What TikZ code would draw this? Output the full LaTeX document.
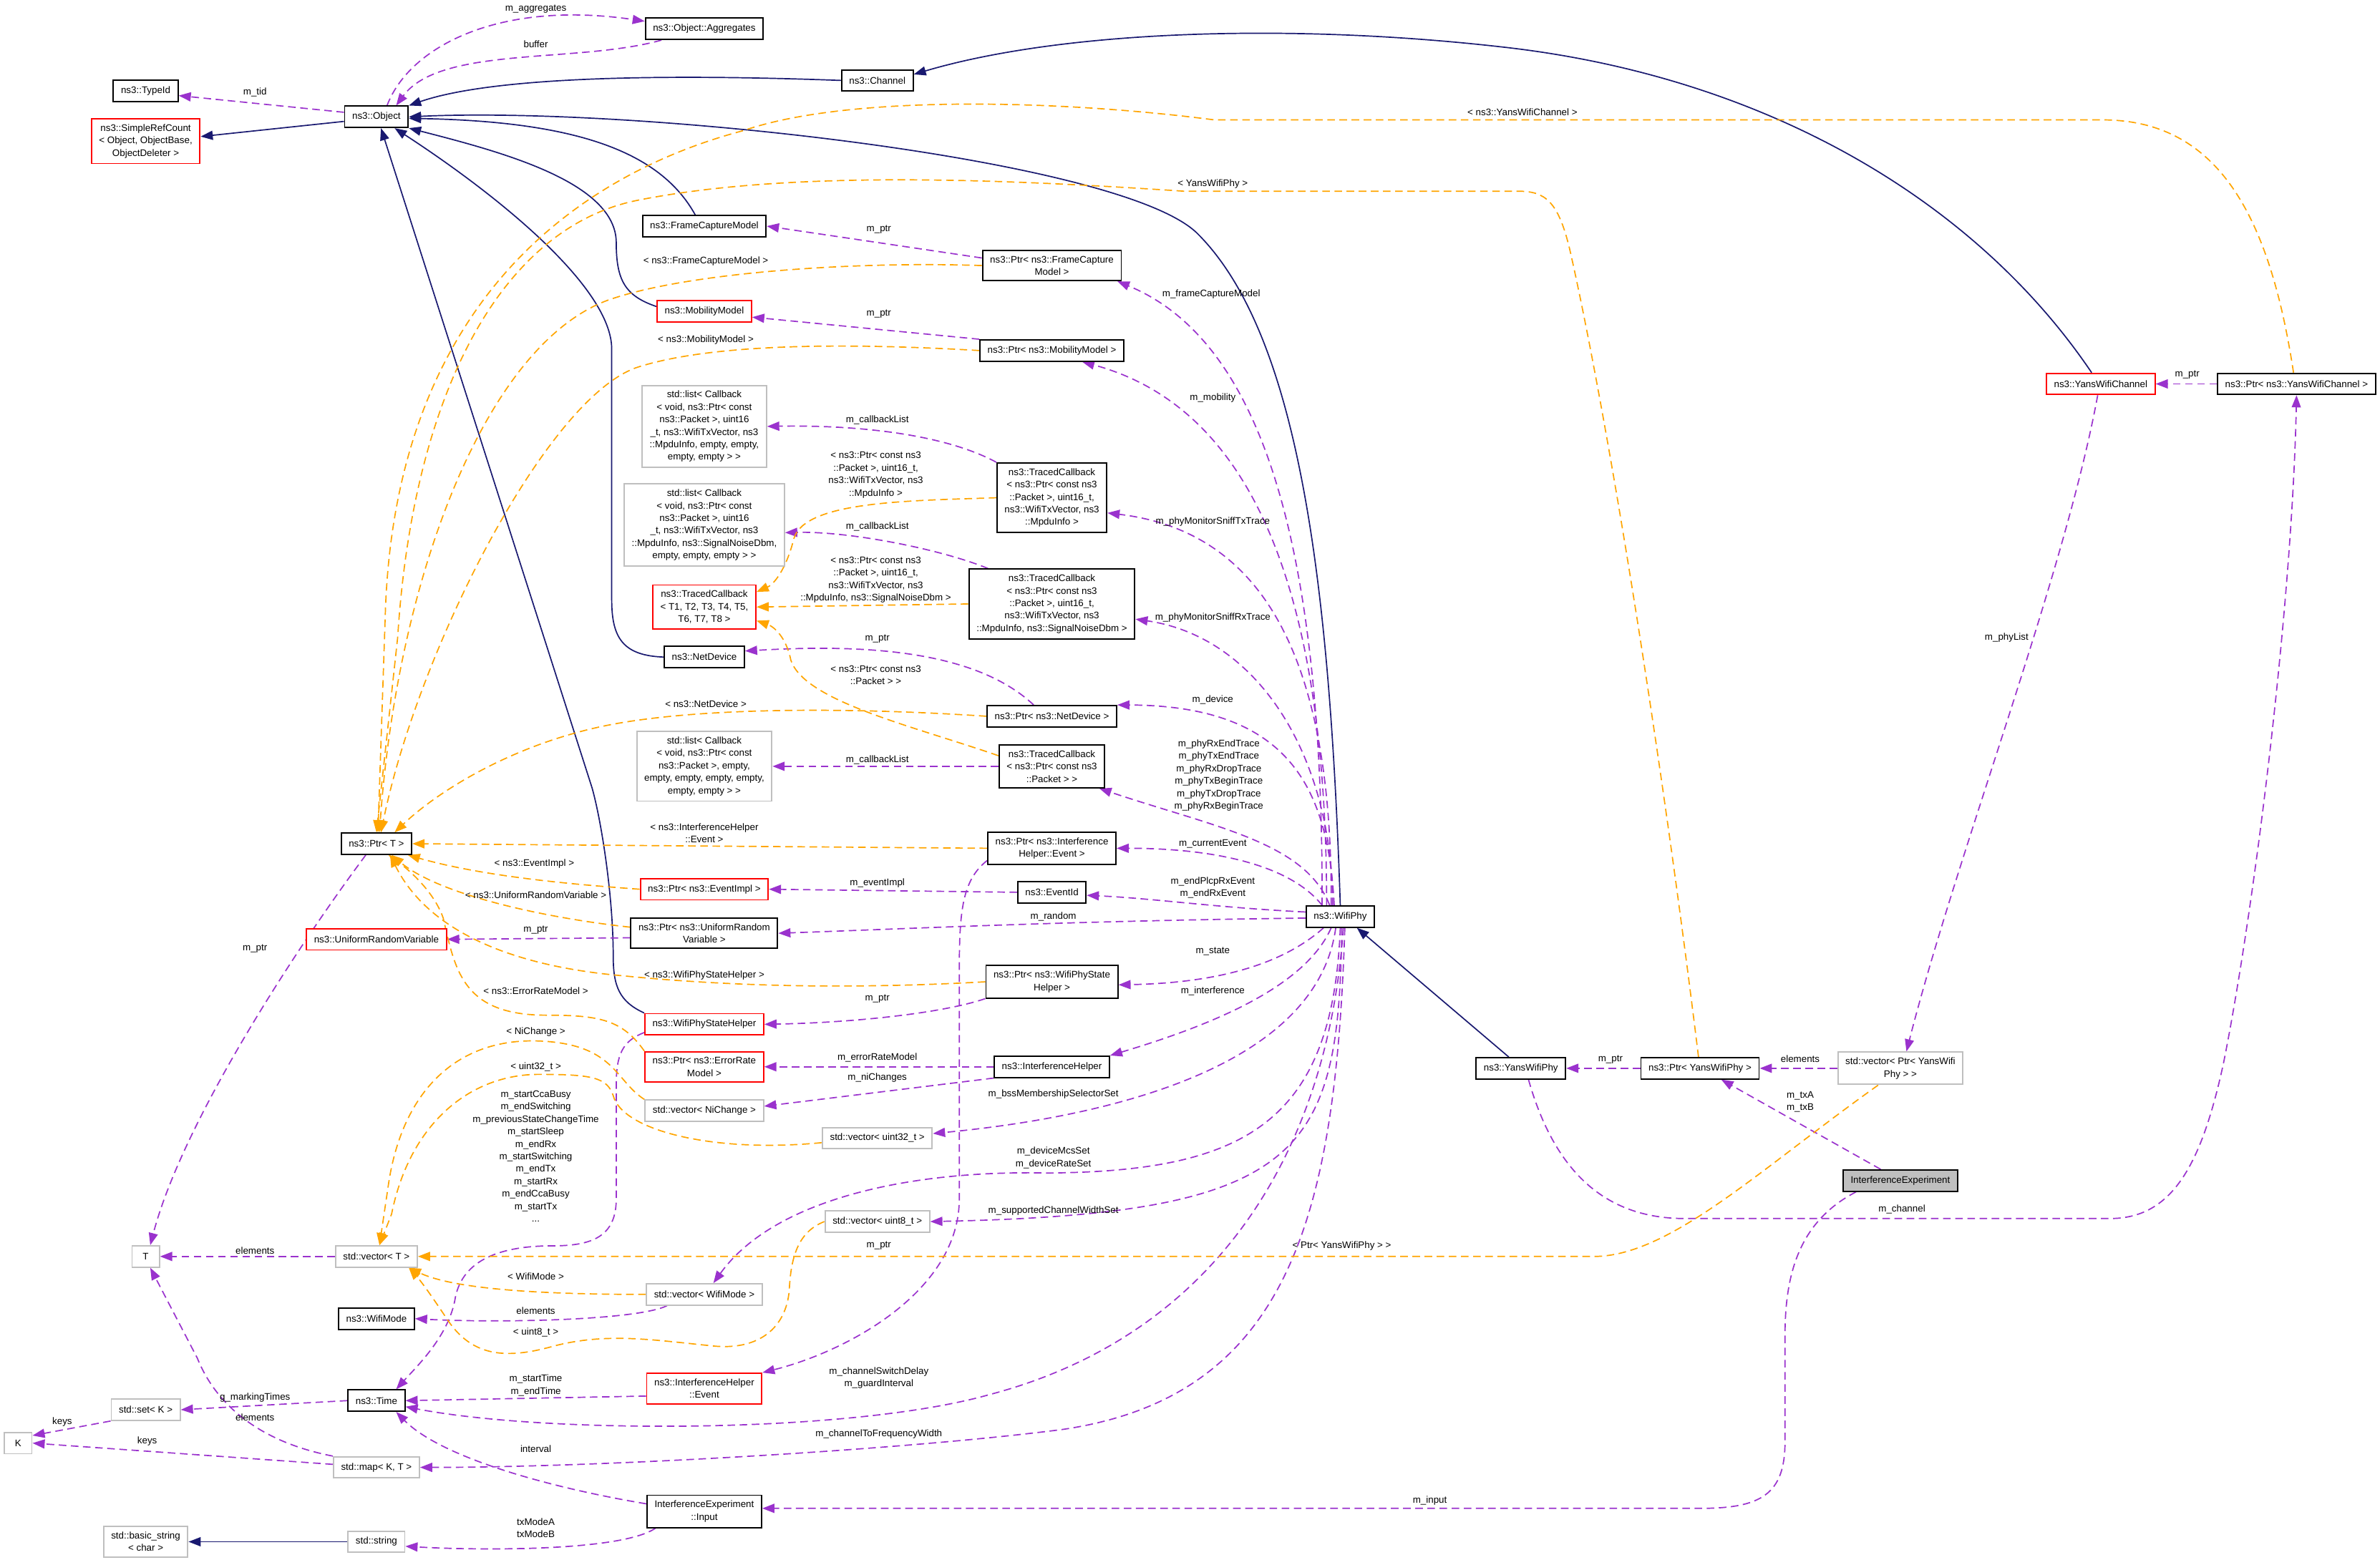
\documentclass[tikz,border=0pt]{standalone}
\usepackage{fontspec}
\setmainfont{Liberation Sans}
\usetikzlibrary{arrows.meta,backgrounds}
\definecolor{inhblue}{HTML}{191970}
\definecolor{usepurple}{HTML}{9A32CD}
\definecolor{tmplorange}{HTML}{FFA500}
\definecolor{extgray}{HTML}{BFBFBF}

\begin{document}
\begin{tikzpicture}[x=1pt, y=-1pt,
  every node/.style={font=\fontsize{6.3}{8.2}\selectfont},
  cls/.style={draw=black, fill=white, line width=0.9pt, align=center, inner xsep=5pt, inner ysep=3.6pt, minimum height=14pt, minimum width=18pt},
  clsred/.style={cls, draw=red},
  clsext/.style={cls, draw=extgray},
  clsmain/.style={cls, fill=extgray},
  lbl/.style={align=center, inner sep=0pt},
  inherit/.style={draw=inhblue, line width=0.8pt, -{Triangle[length=8pt,width=6pt]}},
  uses/.style={draw=usepurple, line width=0.8pt, dash pattern=on 5pt off 3pt, -{Triangle[length=8pt,width=6pt]}},
  tmpl/.style={draw=tmplorange, line width=0.8pt, dash pattern=on 5pt off 3pt, -{Triangle[length=8pt,width=6pt]}}]

  \useasboundingbox (0,0) rectangle (1568,1028);

  %classes:
  \node[cls] (obj) at (248,77) {ns3::Object};
  \node[cls] (typeid) at (96,60) {ns3::TypeId};
  \node[clsred] (refcnt) at (96,93) {ns3::SimpleRefCount\\< Object, ObjectBase,\\ObjectDeleter >};
  \node[cls] (aggr) at (464,19) {ns3::Object::Aggregates};
  \node[cls] (chan) at (578,53) {ns3::Channel};
  \node[cls] (fcm) at (464,149) {ns3::FrameCaptureModel};
  \node[cls] (ptrfcm) at (693,175) {ns3::Ptr< ns3::FrameCapture\\Model >};
  \node[clsred] (mob) at (464,205) {ns3::MobilityModel};
  \node[cls] (ptrmob) at (693,231) {ns3::Ptr< ns3::MobilityModel >};
  \node[clsext] (list1) at (464,281) {std::list< Callback\\< void, ns3::Ptr< const\\ns3::Packet >, uint16\\\_t, ns3::WifiTxVector, ns3\\::MpduInfo, empty, empty,\\empty, empty > >};
  \node[cls] (tc1) at (693,328) {ns3::TracedCallback\\< ns3::Ptr< const ns3\\::Packet >, uint16\_t,\\ns3::WifiTxVector, ns3\\::MpduInfo >};
  \node[clsext] (list2) at (464,346) {std::list< Callback\\< void, ns3::Ptr< const\\ns3::Packet >, uint16\\\_t, ns3::WifiTxVector, ns3\\::MpduInfo, ns3::SignalNoiseDbm,\\empty, empty, empty > >};
  \node[clsred] (tcT) at (464,400) {ns3::TracedCallback\\< T1, T2, T3, T4, T5,\\T6, T7, T8 >};
  \node[cls] (tc2) at (693,398) {ns3::TracedCallback\\< ns3::Ptr< const ns3\\::Packet >, uint16\_t,\\ns3::WifiTxVector, ns3\\::MpduInfo, ns3::SignalNoiseDbm >};
  \node[cls] (netdev) at (464,433) {ns3::NetDevice};
  \node[cls] (ptrnd) at (693,472) {ns3::Ptr< ns3::NetDevice >};
  \node[clsext] (list3) at (464,505) {std::list< Callback\\< void, ns3::Ptr< const\\ns3::Packet >, empty,\\empty, empty, empty, empty,\\empty, empty > >};
  \node[cls] (tc3) at (693,505) {ns3::TracedCallback\\< ns3::Ptr< const ns3\\::Packet > >};
  \node[cls] (ptrT) at (248,556) {ns3::Ptr< T >};
  \node[cls] (ptrev) at (693,559) {ns3::Ptr< ns3::Interference\\Helper::Event >};
  \node[clsred] (ptrei) at (464,586) {ns3::Ptr< ns3::EventImpl >};
  \node[cls] (evid) at (693,588) {ns3::EventId};
  \node[cls] (phy) at (883,604) {ns3::WifiPhy};
  \node[clsred] (urv) at (248,619) {ns3::UniformRandomVariable};
  \node[cls] (ptrurv) at (464,615) {ns3::Ptr< ns3::UniformRandom\\Variable >};
  \node[cls] (ptrstate) at (693,647) {ns3::Ptr< ns3::WifiPhyState\\Helper >};
  \node[clsred] (state) at (464,675) {ns3::WifiPhyStateHelper};
  \node[clsred] (ptrerm) at (464,703) {ns3::Ptr< ns3::ErrorRate\\Model >};
  \node[cls] (ih) at (693,703) {ns3::InterferenceHelper};
  \node[clsext] (vecni) at (464,732) {std::vector< NiChange >};
  \node[clsext] (vecu32) at (578,750) {std::vector< uint32\_t >};
  \node[cls] (yphy) at (1002,704) {ns3::YansWifiPhy};
  \node[cls] (ptryphy) at (1120,704) {ns3::Ptr< YansWifiPhy >};
  \node[clsext] (vecyphy) at (1252,704) {std::vector< Ptr< YansWifi\\Phy > >};
  \node[clsmain] (exp) at (1252,778) {InterferenceExperiment};
  \node[clsred] (ychan) at (1384,253) {ns3::YansWifiChannel};
  \node[cls] (ptrychan) at (1513,253) {ns3::Ptr< ns3::YansWifiChannel >};
  \node[clsext] (vecu8) at (578,805) {std::vector< uint8\_t >};
  \node[clsext] (tT) at (96,828) {T};
  \node[clsext] (vecT) at (248,828) {std::vector< T >};
  \node[clsext] (vecmode) at (464,853) {std::vector< WifiMode >};
  \node[cls] (mode) at (248,869) {ns3::WifiMode};
  \node[clsred] (ihev) at (464,915) {ns3::InterferenceHelper\\::Event};
  \node[cls] (time) at (248,923) {ns3::Time};
  \node[clsext] (setK) at (96,929) {std::set< K >};
  \node[clsext] (kK) at (12,951) {K};
  \node[clsext] (mapKT) at (248,967) {std::map< K, T >};
  \node[cls] (input) at (464,996) {InterferenceExperiment\\::Input};
  \node[clsext] (bstr) at (96,1016) {std::basic\_string\\< char >};
  \node[clsext] (str) at (248,1016) {std::string};

  \begin{scope}[on background layer]
  \fill[white] (0,0) rectangle (1568,1028);

  %inheritance
  \draw[inherit] ([yshift=-3pt]obj.west) -- ([yshift=3pt]refcnt.east);
  \draw[inherit] (chan.west) .. controls (420,48) and (320,52) .. (obj.north east);
  \draw[inherit] (phy.north) .. controls (876,380) and (855,220) .. (789,154) .. controls (740,105) and (420,70) .. (obj.east);
  \draw[inherit] ([xshift=-6pt]fcm.north) .. controls (435,100) and (380,80) .. ([yshift=-1pt]obj.east);
  \draw[inherit] ([yshift=3pt]mob.west) .. controls (412,195) and (406,185) .. (406,160) .. controls (406,120) and (330,100) .. (obj.south east);
  \draw[inherit] (netdev.west) .. controls (410,432) and (403,420) .. (403,395) -- (403,230) .. controls (403,190) and (330,130) .. ([xshift=12pt]obj.south);
  \draw[inherit] (state.north west) .. controls (408,660) and (404,650) .. (404,630) .. controls (404,590) and (396,540) .. (390,519) -- ([xshift=3pt]obj.south);
  \draw[inherit] ([xshift=-6pt]ychan.north) .. controls (1300,130) and (1160,50) .. (990,31) .. controls (850,15) and (700,20) .. ([yshift=4pt]chan.east);
  \draw[inherit] ([xshift=-8pt]yphy.north) -- ([xshift=-12pt]phy.south east);
  \draw[inherit] (str.west) -- (bstr.east);

  %members
  \draw[uses] ([yshift=3pt]obj.west) -- ([yshift=-3pt]typeid.east);
  \draw[uses] ([xshift=7pt]obj.north) .. controls (270,30) and (330,0) .. ([yshift=5pt]aggr.west);
  \draw[uses] ([xshift=11pt]aggr.south west) .. controls (380,42) and (290,30) .. ([xshift=13pt]obj.north);
  \draw[uses] ([yshift=5pt]ptrfcm.west) -- (fcm.east);
  \draw[uses] (ptrmob.north west) -- ([yshift=-4pt]mob.east);
  \draw[uses] ([xshift=-12pt]phy.north) .. controls (872,330) and (820,220) .. ([xshift=-3pt]ptrfcm.south east);
  \draw[uses] ([xshift=-9pt]phy.north) .. controls (874,400) and (830,270) .. ([xshift=20pt]ptrmob.south);
  \draw[uses] (tc1.north west) .. controls (620,285) and (560,280) .. (list1.east);
  \draw[uses] ([xshift=13pt]tc2.north west) .. controls (620,362) and (560,350) .. ([yshift=-5pt]list2.east);
  \draw[uses] ([xshift=-6pt]phy.north) .. controls (878,430) and (830,350) .. ([yshift=-10pt]tc1.east);
  \draw[uses] ([xshift=-5pt]phy.north) .. controls (878,500) and (830,420) .. ([yshift=-10pt]tc2.east);
  \draw[uses] ([xshift=-12pt]ptrnd.north) .. controls (640,426) and (560,425) .. ([yshift=4pt]netdev.east);
  \draw[uses] ([xshift=-4pt]phy.north) .. controls (875,520) and (850,465) .. (ptrnd.north east);
  \draw[uses] (tc3.west) -- (list3.east);
  \draw[uses] ([xshift=-7pt]phy.north) .. controls (860,555) and (800,545) .. ([xshift=-4pt]tc3.south east);
  \draw[uses] ([xshift=-12pt]phy.north) .. controls (850,570) and (800,559) .. (ptrev.east);
  \draw[uses] (evid.west) -- (ptrei.east);
  \draw[uses] ([yshift=3pt]phy.west) .. controls (800,598) and (760,592) .. ([yshift=-2pt]evid.east);
  \draw[uses] ([yshift=-1pt]phy.west) .. controls (700,607) and (600,612) .. (ptrurv.east);
  \draw[uses] ([yshift=-3pt]ptrurv.west) -- (urv.east);
  \draw[uses] ([xshift=-11pt]phy.south) .. controls (840,640) and (790,648) .. ([yshift=-2pt]ptrstate.east);
  \draw[uses] (ptrstate.south west) .. controls (620,668) and (560,674) .. (state.east);
  \draw[uses] ([xshift=-6pt]phy.south) .. controls (860,650) and (800,675) .. (ih.north east);
  \draw[uses] (ih.west) -- (ptrerm.east);
  \draw[uses] (ih.south west) -- ([yshift=3pt]vecni.east);
  \draw[uses] ([xshift=-3pt]phy.south) .. controls (868,700) and (740,735) .. ([yshift=3pt]vecu32.east);
  \draw[uses] (phy.south) .. controls (878,740) and (820,772) .. (690,773) .. controls (600,771) and (510,790) .. ([xshift=6pt]vecmode.north);
  \draw[uses] ([xshift=1pt]phy.south) .. controls (882,760) and (860,800) .. (vecu8.east);
  \draw[uses] ([yshift=3pt]ptrev.south west) .. controls (634,580) and (632,600) .. (632,640) -- (632,790) .. controls (632,850) and (560,890) .. (ihev.north east);
  \draw[uses] ([xshift=2pt]phy.south) .. controls (875,760) and (800,880) .. (652,919) .. controls (560,945) and (360,945) .. ([yshift=-4pt]time.east);
  \draw[uses] ([xshift=3pt]phy.south) .. controls (880,800) and (850,920) .. (700,942) .. controls (600,955) and (400,967) .. (mapKT.east);
  \draw[uses] ([yshift=-5pt]ihev.west) -- (time.east);
  \draw[uses] ([yshift=2pt]state.south west) .. controls (410,686) and (406,695) .. (406,715) -- (406,790) .. controls (406,815) and (390,821) .. (364,821) .. controls (330,821) and (305,830) .. (300,855) .. controls (296,880) and (275,900) .. ([xshift=13pt]time.north);
  \draw[uses] (time.west) -- (setK.east);
  \draw[uses] (setK.south west) -- ([yshift=5pt]kK.east);
  \draw[uses] ([yshift=2pt]mapKT.west) -- (kK.east);
  \draw[uses] (mapKT.north west) .. controls (170,950) and (142,925) .. (130,895) -- ([xshift=3pt]tT.south);
  \draw[uses] (vecT.west) -- (tT.east);
  \draw[uses] ([xshift=-7pt]ptrT.south) .. controls (195,625) and (120,740) .. ([xshift=3pt]tT.north);
  \draw[uses] ([xshift=14pt]vecmode.south west) .. controls (420,870) and (330,872) .. (mode.east);
  \draw[uses] ([yshift=5pt]input.west) .. controls (360,980) and (290,960) .. ([xshift=13pt]time.south);
  \draw[uses] ([xshift=6pt]input.south west) .. controls (410,1022) and (320,1022) .. ([yshift=-3pt]str.east);
  \draw[uses] ([xshift=9pt]exp.south west) .. controls (1185,805) and (1176,840) .. (1176,880) -- (1176,950) .. controls (1176,985) and (1160,994) .. (1120,994) -- ([yshift=2pt]input.east);
  \draw[uses] ([xshift=-13pt]exp.north) -- ([xshift=14pt]ptryphy.south);
  \draw[uses] ([xshift=5pt]yphy.south) .. controls (1025,775) and (1060,803) .. (1110,803) -- (1390,803) .. controls (1430,803) and (1450,770) .. (1465,700) .. controls (1485,600) and (1510,400) .. (ptrychan.south);
  \draw[uses] (ptrychan.west) -- (ychan.east);
  \draw[uses] ([xshift=-2pt]ychan.south) .. controls (1360,380) and (1290,560) .. ([xshift=4pt]vecyphy.north);
  \draw[uses] (vecyphy.west) -- (ptryphy.east);
  \draw[uses] (ptryphy.west) -- (yphy.east);

  %template instances
  \draw[tmpl] ([xshift=-2pt]ptrychan.north) .. controls (1495,140) and (1460,79) .. (1385,79) -- (800,79) .. controls (700,66) and (560,62) .. (490,86) .. controls (380,115) and (262,200) .. (254,400) -- ([xshift=1pt]ptrT.north);
  \draw[tmpl] ([xshift=-1pt]ptryphy.north) .. controls (1095,500) and (1060,280) .. (1035,168) .. controls (1027,132) and (1018,126) .. (1000,126) -- (780,126) .. controls (660,118) and (520,112) .. (420,132) .. controls (330,150) and (272,260) .. (262,420) -- (ptrT.north);
  \draw[tmpl] (ptrfcm.west) .. controls (560,172) and (450,180) .. (400,198) .. controls (320,228) and (262,380) .. ([xshift=2pt]ptrT.north);
  \draw[tmpl] (ptrmob.west) .. controls (560,226) and (470,226) .. (420,242) .. controls (360,262) and (275,430) .. ([xshift=3pt]ptrT.north);
  \draw[tmpl] (ptrnd.west) .. controls (560,466) and (460,466) .. (400,478) .. controls (340,490) and (290,520) .. ([xshift=12pt]ptrT.north);
  \draw[tmpl] (tc1.west) .. controls (600,330) and (530,330) .. (523,355) .. controls (518,375) and (510,385) .. ([yshift=-5pt]tcT.north east);
  \draw[tmpl] (tc2.west) -- (tcT.east);
  \draw[tmpl] ([yshift=7pt]tc3.west) .. controls (600,478) and (530,462) .. (521,435) .. controls (518,420) and (510,413) .. ([yshift=-9pt]tcT.east);
  \draw[tmpl] (ptrev.west) -- (ptrT.east);
  \draw[tmpl] (ptrei.west) .. controls (380,583) and (320,578) .. ([xshift=-3pt]ptrT.south east);
  \draw[tmpl] ([yshift=4pt]ptrurv.west) .. controls (360,605) and (290,590) .. ([xshift=10pt]ptrT.south);
  \draw[tmpl] (ptrstate.west) .. controls (560,652) and (480,650) .. (410,643) .. controls (330,636) and (280,610) .. ([xshift=9pt]ptrT.south);
  \draw[tmpl] (ptrerm.north west) .. controls (410,672) and (395,669) .. (360,669) .. controls (305,669) and (300,640) .. (292,605) .. controls (285,585) and (265,570) .. ([xshift=8pt]ptrT.south);
  \draw[tmpl] (vecni.north west) .. controls (405,712) and (405,688) .. (355,686) .. controls (300,684) and (265,720) .. (256,780) -- ([xshift=2pt]vecT.north);
  \draw[tmpl] ([yshift=-3pt]vecu32.west) .. controls (470,760) and (410,745) .. (404,722) .. controls (400,710) and (390,708) .. (355,708) .. controls (310,708) and (270,740) .. (258,800) -- ([xshift=2pt]vecT.north);
  \draw[tmpl] (vecmode.west) .. controls (360,853) and (300,850) .. ([xshift=-6pt]vecT.south east);
  \draw[tmpl] (vecu8.west) .. controls (525,812) and (521,830) .. (520,850) .. controls (518,875) and (500,890) .. (470,887) .. controls (430,883) and (400,878) .. (365,887) .. controls (330,897) and (310,892) .. (295,870) .. controls (285,855) and (278,845) .. ([xshift=-6pt]vecT.south east);
  \draw[tmpl] ([xshift=27pt]vecyphy.south west) .. controls (1160,770) and (1100,828) .. (1050,828) -- (vecT.east);
  \end{scope}

  %labels
  \node[lbl] at (168,61) {m\_tid};
  \node[lbl] at (353,6) {m\_aggregates};
  \node[lbl] at (353,29) {buffer};
  \node[lbl] at (579,151) {m\_ptr};
  \node[lbl] at (579,207) {m\_ptr};
  \node[lbl] at (798,194) {m\_frameCaptureModel};
  \node[lbl] at (799,262) {m\_mobility};
  \node[lbl] at (578,277) {m\_callbackList};
  \node[lbl] at (799,344) {m\_phyMonitorSniffTxTrace};
  \node[lbl] at (578,347) {m\_callbackList};
  \node[lbl] at (799,407) {m\_phyMonitorSniffRxTrace};
  \node[lbl] at (578,421) {m\_ptr};
  \node[lbl] at (799,461) {m\_device};
  \node[lbl] at (578,501) {m\_callbackList};
  \node[lbl] at (803,511) {m\_phyRxEndTrace\\m\_phyTxEndTrace\\m\_phyRxDropTrace\\m\_phyTxBeginTrace\\m\_phyTxDropTrace\\m\_phyRxBeginTrace};
  \node[lbl] at (799,556) {m\_currentEvent};
  \node[lbl] at (578,582) {m\_eventImpl};
  \node[lbl] at (799,585) {m\_endPlcpRxEvent\\m\_endRxEvent};
  \node[lbl] at (694,604) {m\_random};
  \node[lbl] at (353,613) {m\_ptr};
  \node[lbl] at (799,627) {m\_state};
  \node[lbl] at (578,658) {m\_ptr};
  \node[lbl] at (799,653) {m\_interference};
  \node[lbl] at (578,697) {m\_errorRateModel};
  \node[lbl] at (578,710) {m\_niChanges};
  \node[lbl] at (694,721) {m\_bssMembershipSelectorSet};
  \node[lbl] at (694,763) {m\_deviceMcsSet\\m\_deviceRateSet};
  \node[lbl] at (694,798) {m\_supportedChannelWidthSet};
  \node[lbl] at (579,821) {m\_ptr};
  \node[lbl] at (579,908) {m\_channelSwitchDelay\\m\_guardInterval};
  \node[lbl] at (579,945) {m\_channelToFrequencyWidth};
  \node[lbl] at (353,913) {m\_startTime\\m\_endTime};
  \node[lbl] at (353,762) {m\_startCcaBusy\\m\_endSwitching\\m\_previousStateChangeTime\\m\_startSleep\\m\_endRx\\m\_startSwitching\\m\_endTx\\m\_startRx\\m\_endCcaBusy\\m\_startTx\\...};
  \node[lbl] at (168,921) {g\_markingTimes};
  \node[lbl] at (41,937) {keys};
  \node[lbl] at (97,950) {keys};
  \node[lbl] at (168,934) {elements};
  \node[lbl] at (168,824) {elements};
  \node[lbl] at (168,625) {m\_ptr};
  \node[lbl] at (353,864) {elements};
  \node[lbl] at (353,955) {interval};
  \node[lbl] at (353,1007) {txModeA\\txModeB};
  \node[lbl] at (942,989) {m\_input};
  \node[lbl] at (1186,726) {m\_txA\\m\_txB};
  \node[lbl] at (1253,797) {m\_channel};
  \node[lbl] at (1441,247) {m\_ptr};
  \node[lbl] at (1322,420) {m\_phyList};
  \node[lbl] at (1186,698) {elements};
  \node[lbl] at (1061,698) {m\_ptr};
  \node[lbl] at (1003,74) {< ns3::YansWifiChannel >};
  \node[lbl] at (799,121) {< YansWifiPhy >};
  \node[lbl] at (465,172) {< ns3::FrameCaptureModel >};
  \node[lbl] at (465,224) {< ns3::MobilityModel >};
  \node[lbl] at (577,313) {< ns3::Ptr< const ns3\\::Packet >, uint16\_t,\\ns3::WifiTxVector, ns3\\::MpduInfo >};
  \node[lbl] at (577,382) {< ns3::Ptr< const ns3\\::Packet >, uint16\_t,\\ns3::WifiTxVector, ns3\\::MpduInfo, ns3::SignalNoiseDbm >};
  \node[lbl] at (577,445) {< ns3::Ptr< const ns3\\::Packet > >};
  \node[lbl] at (465,464) {< ns3::NetDevice >};
  \node[lbl] at (464,549) {< ns3::InterferenceHelper\\::Event >};
  \node[lbl] at (352,569) {< ns3::EventImpl >};
  \node[lbl] at (353,590) {< ns3::UniformRandomVariable >};
  \node[lbl] at (464,643) {< ns3::WifiPhyStateHelper >};
  \node[lbl] at (353,653) {< ns3::ErrorRateModel >};
  \node[lbl] at (353,680) {< NiChange >};
  \node[lbl] at (353,703) {< uint32\_t >};
  \node[lbl] at (353,841) {< WifiMode >};
  \node[lbl] at (353,878) {< uint8\_t >};
  \node[lbl] at (884,821) {< Ptr< YansWifiPhy > >};
\end{tikzpicture}
\end{document}
